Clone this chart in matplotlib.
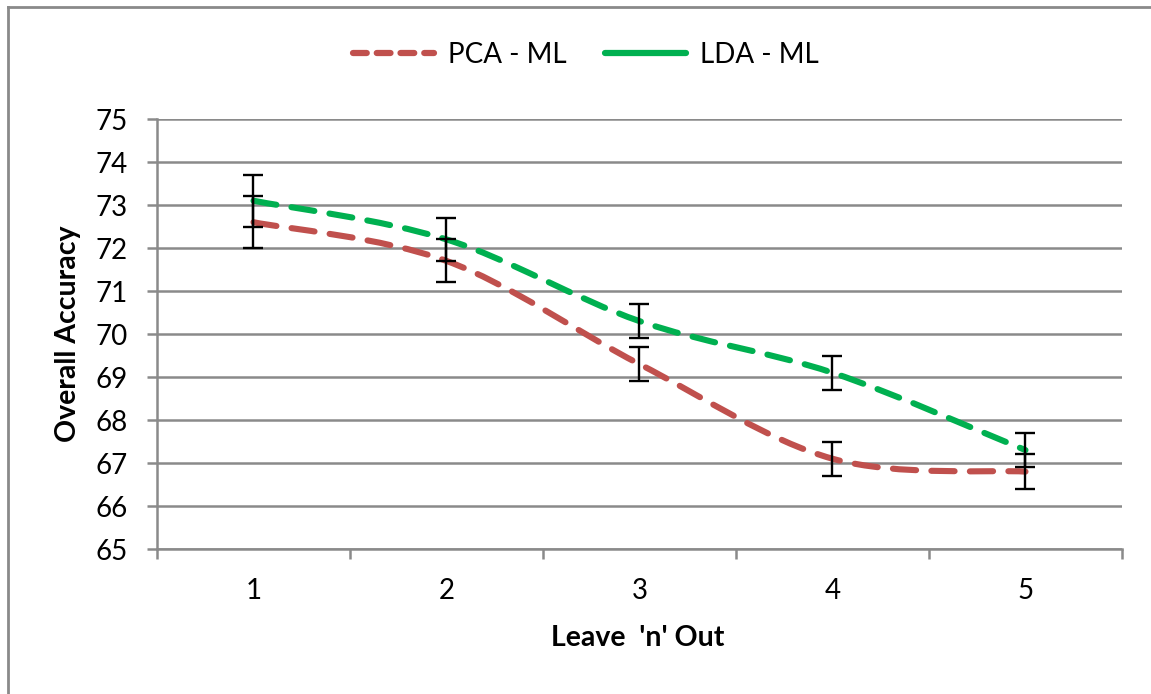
import numpy as np
import matplotlib
matplotlib.use("Agg")
import matplotlib.pyplot as plt
from matplotlib.path import Path
from matplotlib.patches import PathPatch
from matplotlib.lines import Line2D

plt.rcParams['font.family'] = ['Lato', 'DejaVu Sans']

leave_n = [1, 2, 3, 4, 5]
pca_ml = [72.6, 71.7, 69.3, 67.1, 66.8]
lda_ml = [73.1, 72.2, 70.3, 69.1, 67.3]
err = [0.6, 0.5, 0.4, 0.4, 0.4]

red = '#C0504D'
green = '#00B050'
grey = '#8A8A8A'


def smooth_path(x, y):
    # Excel-style smoothed line: Catmull-Rom turned into cubic Bezier segments
    pts = np.column_stack([x, y]).astype(float)
    ext = np.vstack([pts[0], pts, pts[-1]])
    verts = [pts[0]]
    codes = [Path.MOVETO]
    for i in range(1, len(ext) - 2):
        p0, p1, p2, p3 = ext[i - 1], ext[i], ext[i + 1], ext[i + 2]
        verts += [p1 + (p2 - p0) / 6, p2 - (p3 - p1) / 6, p2]
        codes += [Path.CURVE4] * 3
    return Path(verts, codes)


fig = plt.figure(figsize=(11.51, 6.94), dpi=100)
ax = fig.add_axes([0.1364, 0.2089, 0.8384, 0.6196])

for vals, col in [(pca_ml, red), (lda_ml, green)]:
    patch = PathPatch(smooth_path(leave_n, vals), facecolor='none', edgecolor=col,
                      lw=4.4, linestyle=(0, (3.8, 2.5)), capstyle='round', zorder=3)
    ax.add_patch(patch)
    ax.errorbar(leave_n, vals, yerr=err, fmt='none', ecolor='black',
                elinewidth=1.7, capsize=7, capthick=1.7, zorder=4)

ax.set_xlim(0.5, 5.5)
ax.set_ylim(65, 75)
ax.set_yticks(range(65, 76))
ax.yaxis.grid(True, color=grey, lw=1.8)
ax.set_axisbelow(True)

ax.set_xticks(np.arange(0.5, 5.6, 1))
ax.set_xticklabels([])
ax.set_xticks(leave_n, minor=True)
ax.set_xticklabels([str(v) for v in leave_n], minor=True)
ax.tick_params(axis='x', which='major', length=7, width=1.8, color=grey, direction='out')
ax.tick_params(axis='x', which='minor', length=0, pad=21, labelsize=20)
ax.tick_params(axis='y', length=7, width=1.8, color=grey, pad=14, labelsize=20)

for s in ['top', 'right']:
    ax.spines[s].set_visible(False)
for s in ['left', 'bottom']:
    ax.spines[s].set_color(grey)
    ax.spines[s].set_linewidth(1.8)

fig.text(0.0595, 0.5187, 'Overall Accuracy', rotation=90, ha='center', va='center',
         fontsize=20.5, fontweight='bold')
fig.text(0.5544, 0.0807, "Leave  'n' Out", ha='center', va='center',
         fontsize=20.5, fontweight='bold')

handles = [Line2D([], [], color=red, lw=4.5, linestyle=(0, (2.2, 1.6)), dash_capstyle='round'),
           Line2D([], [], color=green, lw=4.5, solid_capstyle='round')]
fig.legend(handles, ['PCA - ML', 'LDA - ML'], loc='center', bbox_to_anchor=(0.509, 0.921),
           ncol=2, frameon=False, fontsize=20, handlelength=2.9, columnspacing=1.4,
           handletextpad=0.5)

# outer chart border (only left and top visible)
fig.add_artist(Line2D([0.0069, 0.0069], [0, 0.9899], transform=fig.transFigure, color=grey, lw=2))
fig.add_artist(Line2D([0.0069, 1], [0.9899, 0.9899], transform=fig.transFigure, color=grey, lw=2))

fig.savefig('out.png', dpi=100)
